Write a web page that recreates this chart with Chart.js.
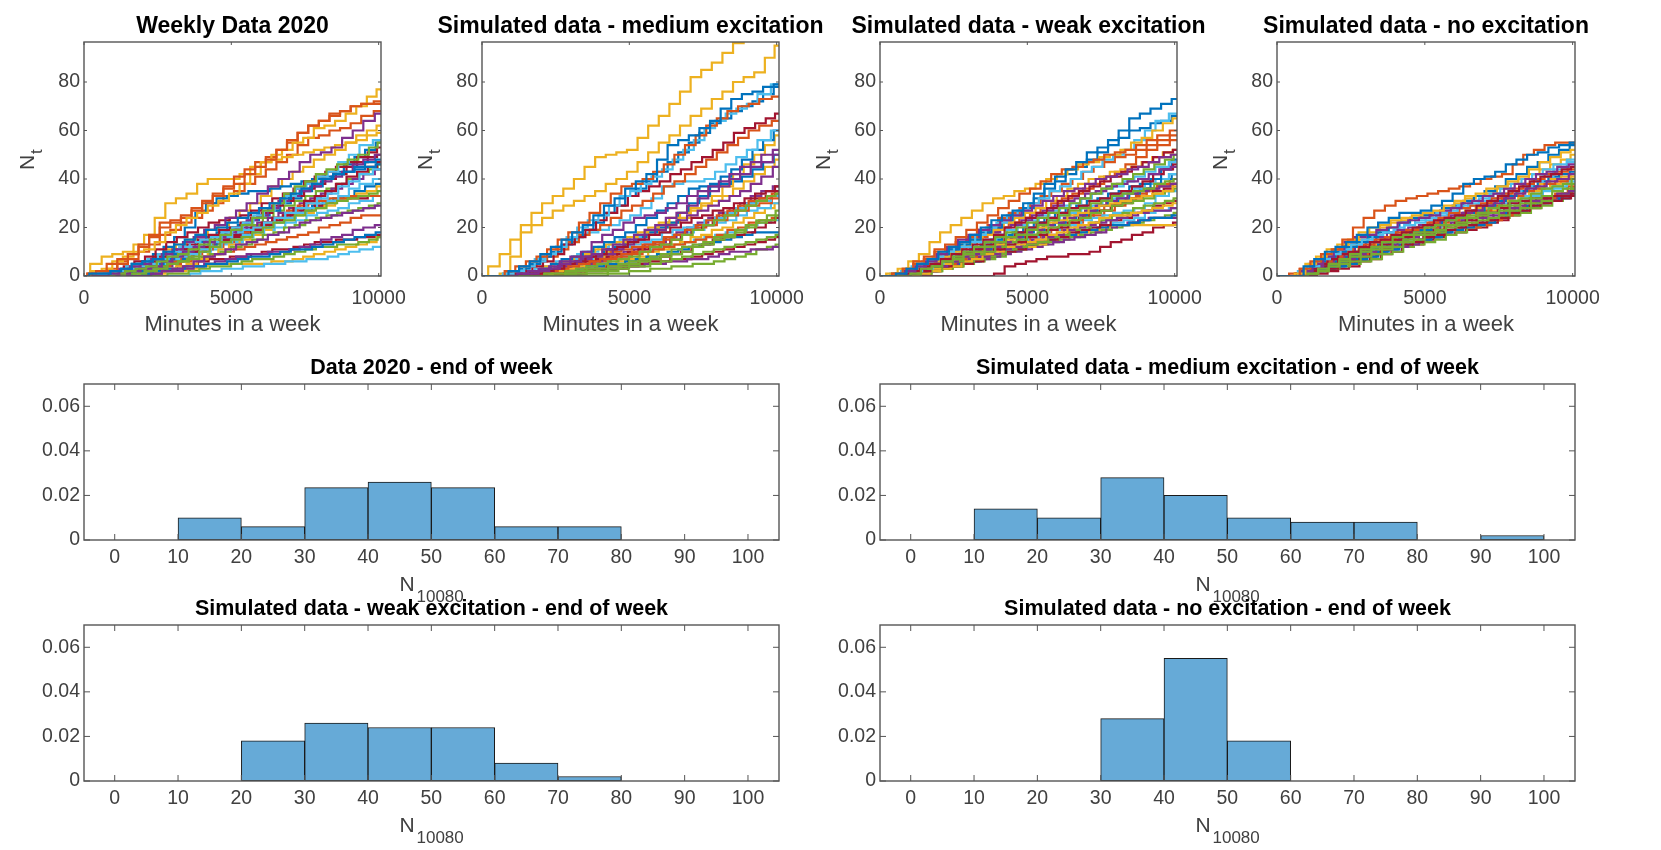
<!DOCTYPE html>
<html>
<head>
<meta charset="utf-8">
<title>Weekly data and simulated excitation</title>
<script src="https://cdn.jsdelivr.net/npm/chart.js@4"></script>
<style>
  html, body { margin: 0; padding: 0; background: #fff; width: 1661px; height: 850px; overflow: hidden; }
  canvas { position: absolute; }
</style>
</head>
<body>
<script>
  // sample times of the cumulative counts, minutes
  const timesMin = [0,360,720,1080,1440,1800,2160,2520,2880,3240,3600,3960,4320,4680,5040,5400,5760,6120,6480,6840,7200,7560,7920,8280,8640,9000,9360,9720,10080];
  // the paths do not jump at the same moment, lag per colour in minutes
  const pathLags = [0, -130, 60, -60, 130, -190, 90];
  const lineXTicks = [0, 5000, 10000];
  const lineYTicks = [0, 20, 40, 60, 80];

  const lineColors = ["#0072BD", "#D95319", "#EDB120", "#7E2F8E", "#77AC30", "#4DBEEE", "#A2142F"];

  const weeklyPaths = [
    [0,1,1,2,3,5,6,7,10,13,15,17,19,20,22,24,26,28,30,32,34,36,38,40,42,43,45,47,48],
    [0,1,2,5,7,9,12,17,22,23,25,27,30,33,36,38,42,45,48,52,56,59,62,64,67,68,70,71,72],
    [0,2,3,6,8,10,11,14,18,21,24,26,29,31,34,38,42,47,50,52,55,57,61,62,64,67,70,74,77],
    [0,0,0,1,3,4,5,7,9,11,14,16,19,21,24,27,30,34,37,40,43,47,50,51,53,57,60,64,67],
    [0,0,0,1,2,3,4,6,8,9,11,13,15,17,19,21,24,27,30,34,37,39,42,44,46,48,50,53,55],
    [0,0,1,1,2,4,5,7,9,10,12,14,15,16,18,20,22,25,27,30,33,36,38,41,43,47,50,54,56],
    [0,1,1,2,4,6,8,11,14,16,18,20,22,23,24,25,27,30,32,34,36,39,41,43,45,47,49,51,53],
    [0,0,1,2,3,5,6,9,12,16,20,26,30,32,33,34,35,35,36,37,38,39,40,41,42,43,44,45,46],
    [0,1,1,3,6,9,13,16,20,22,24,28,31,34,37,41,44,47,49,52,55,59,62,64,66,68,70,71,71],
    [0,5,8,9,10,13,17,24,30,32,34,38,40,40,40,42,45,47,48,49,50,51,52,53,54,55,56,58,59],
    [0,0,0,0,1,2,3,4,6,8,10,12,14,16,18,20,23,25,28,31,33,35,37,39,41,43,46,48,50],
    [0,0,0,0,1,1,2,3,5,6,8,10,12,14,15,16,18,20,22,23,25,27,28,30,31,32,33,34,35],
    [0,0,0,1,2,3,4,5,7,8,10,12,13,14,16,18,19,20,22,24,26,28,30,32,34,37,39,42,44],
    [0,0,0,1,3,4,6,8,10,11,13,15,17,19,20,22,24,26,29,31,33,36,38,40,42,45,47,49,50],
    [0,0,0,0,1,2,4,5,7,9,12,14,16,18,20,21,23,25,27,30,32,35,37,40,43,46,49,52,55],
    [0,0,0,2,5,7,10,13,17,19,22,24,27,30,33,35,38,41,44,47,50,54,57,58,60,61,63,66,68],
    [0,0,0,1,2,4,6,8,11,13,15,17,19,21,24,27,30,33,37,40,43,45,48,50,52,55,58,60,62],
    [0,0,0,0,0,0,0,1,2,3,4,6,8,9,11,13,14,15,17,18,20,22,23,24,25,26,27,28,29],
    [0,0,0,0,1,2,3,4,5,6,7,8,9,10,12,13,15,17,18,20,21,23,24,25,26,27,28,29,30],
    [0,0,0,0,1,1,2,3,5,7,8,9,11,12,14,15,17,18,20,22,24,26,28,30,31,33,36,38,40],
    [0,0,0,1,2,3,5,7,9,10,11,12,14,15,16,17,19,21,23,25,28,31,33,35,38,41,43,45,47],
    [0,0,0,0,0,0,1,2,3,3,4,4,5,5,6,7,8,8,9,10,11,11,12,13,14,15,16,17,18],
    [0,0,0,0,1,2,3,4,5,6,8,9,11,12,14,16,18,20,22,24,27,29,30,31,32,32,33,33,33],
    [0,0,0,0,0,1,2,2,3,4,5,7,9,11,13,15,17,19,22,23,25,26,28,29,31,33,34,35,37],
    [0,0,0,0,0,0,1,1,2,2,3,4,5,6,7,8,9,9,10,10,11,12,13,15,16,17,19,20,21],
    [0,0,0,0,0,0,0,0,1,1,2,3,4,4,5,6,7,7,8,9,10,11,12,12,13,13,14,15,16],
    [0,0,0,0,0,0,0,0,0,0,0,1,2,2,3,3,4,4,5,5,6,6,7,7,8,9,10,11,12],
    [0,0,0,1,2,3,4,5,7,8,10,12,14,15,17,18,20,22,24,25,27,28,29,30,31,32,32,33,33],
    [0,0,1,1,2,2,3,4,6,7,9,10,12,14,16,17,19,20,22,24,26,27,29,31,32,33,35,37,38],
    [0,0,0,0,1,1,2,3,4,5,6,7,8,9,10,11,12,13,14,15,16,17,18,20,21,22,24,25,25],
    [0,0,0,0,0,0,1,1,2,2,3,4,5,5,5,5,5,5,6,6,7,8,9,10,11,12,13,14,16],
    [0,0,0,0,1,1,2,3,4,6,8,10,12,14,16,18,20,22,24,26,28,30,32,34,36,38,40,42,44],
    [0,0,0,0,1,2,3,4,6,7,9,11,13,15,17,19,21,24,27,29,31,33,35,36,38,40,42,44,46],
    [0,0,0,0,1,2,3,4,5,6,8,9,10,11,13,14,16,17,19,20,22,23,25,26,27,28,30,31,33],
    [0,0,0,0,1,1,1,2,3,4,5,6,7,7,8,8,9,10,11,11,12,13,14,14,15,15,16,16,17]
  ];

  const mediumPaths = [
    [0,0,0,2,4,6,9,12,15,18,21,25,29,32,36,39,42,48,54,56,58,61,64,69,73,75,76,78,79],
    [0,0,0,2,4,6,8,11,15,18,22,26,30,34,37,38,40,43,46,50,54,58,62,65,68,70,71,73,74],
    [0,4,9,15,21,26,30,33,36,40,45,49,50,51,52,57,62,66,71,76,82,85,88,92,96,102,108,112,115],
    [0,0,0,0,1,2,3,4,6,8,10,14,17,19,22,24,25,26,28,30,33,35,37,39,42,45,47,50,52],
    [0,0,0,0,0,0,1,1,2,3,4,5,6,7,8,10,12,13,15,17,19,21,23,25,27,29,31,33,34],
    [0,0,0,1,2,4,6,9,12,16,20,23,25,29,33,35,38,41,44,48,52,56,61,64,67,69,71,75,79],
    [0,0,0,1,2,4,6,9,13,16,19,23,26,29,33,35,37,39,42,44,47,49,52,55,59,61,63,65,67],
    [0,0,0,1,3,5,8,10,13,16,19,22,26,29,33,36,39,43,47,51,55,59,63,65,68,70,72,75,78],
    [0,0,0,1,2,4,6,8,11,14,17,19,21,24,27,29,31,34,37,39,42,45,48,51,54,57,60,62,64],
    [0,0,1,8,18,21,24,27,29,31,33,35,38,40,43,47,51,55,58,62,66,69,73,76,80,82,84,90,95],
    [0,0,0,0,1,1,2,3,5,6,8,9,11,13,15,17,19,21,24,26,29,32,35,37,40,42,45,47,50],
    [0,0,0,0,0,0,0,0,1,2,3,3,4,5,6,7,8,9,11,12,13,14,16,17,19,21,23,25,27],
    [0,0,0,1,2,4,7,9,12,15,17,18,19,21,23,25,28,32,37,38,39,39,40,43,46,49,52,56,60],
    [0,0,0,0,1,1,2,3,5,6,8,9,11,12,14,15,17,18,20,22,24,25,27,28,30,32,34,35,37],
    [0,0,0,0,1,2,3,5,7,8,10,12,14,16,18,21,24,27,30,33,36,37,38,41,44,48,52,56,60],
    [0,0,0,0,0,0,1,2,3,4,5,6,7,8,9,10,12,13,15,17,19,21,23,25,27,29,31,32,34],
    [0,0,0,0,1,2,4,5,6,8,9,11,13,14,16,18,20,22,24,26,28,30,33,37,42,46,50,54,58],
    [0,0,0,0,0,1,2,3,4,5,7,8,9,11,13,15,17,19,21,23,25,27,29,31,33,35,38,41,45],
    [0,0,0,0,0,0,0,0,1,1,2,2,3,4,5,6,7,8,9,10,12,13,15,16,18,20,22,23,25],
    [0,0,0,0,1,2,3,4,6,7,9,10,12,13,15,16,17,17,18,19,20,21,23,24,26,28,30,31,33],
    [0,0,0,0,1,2,3,4,5,5,6,7,8,9,10,11,12,13,15,17,19,21,24,26,28,30,32,33,35],
    [0,0,0,0,1,2,3,4,5,6,8,9,11,12,14,16,18,20,22,26,30,33,37,38,39,41,44,47,50],
    [0,0,0,0,1,1,2,3,4,5,7,8,9,10,11,12,13,14,16,17,19,20,21,23,25,27,29,30,32],
    [0,0,0,0,0,0,1,2,3,4,6,8,10,12,14,16,18,20,22,24,27,29,31,33,36,39,42,45,48],
    [0,0,0,0,0,0,1,2,3,4,5,6,8,9,10,11,13,14,16,18,20,22,24,26,28,30,33,35,37],
    [0,0,0,0,0,0,0,0,0,0,1,1,2,3,4,4,5,6,7,8,9,10,11,12,13,14,15,16,17],
    [0,0,0,0,0,1,2,3,4,5,6,7,9,10,12,13,14,15,16,17,18,19,21,22,23,25,27,28,30],
    [0,0,0,0,0,0,1,1,2,2,3,3,4,4,5,6,7,8,9,10,12,13,15,16,17,18,20,22,24],
    [0,0,0,0,0,0,1,2,3,3,4,4,5,5,6,7,8,9,10,11,12,13,14,15,16,17,18,18,18],
    [0,0,0,0,1,1,2,2,3,3,4,5,6,7,8,9,10,11,12,13,14,15,16,17,19,20,22,23,24],
    [0,0,0,0,0,0,1,1,2,2,3,4,5,6,7,8,10,11,13,14,16,17,19,20,22,24,26,28,30],
    [0,0,0,0,0,0,0,0,1,1,2,2,3,3,4,4,5,5,6,6,7,7,8,9,10,10,11,11,12],
    [0,0,0,0,0,0,0,0,0,0,0,0,1,1,2,2,3,3,4,4,5,5,6,7,8,9,11,12,13],
    [0,0,0,0,0,0,1,1,2,3,4,5,6,7,8,9,10,11,12,13,14,15,16,17,18,19,21,22,23],
    [0,0,0,0,0,0,0,0,1,1,2,2,3,3,4,5,6,6,7,7,8,9,10,11,12,13,14,15,16]
  ];

  const weakPaths = [
    [0,0,1,3,5,7,10,12,14,17,20,23,25,27,30,34,38,41,44,47,51,53,56,60,65,67,69,71,73],
    [0,0,1,3,6,8,11,13,16,19,22,25,28,31,34,36,39,42,44,45,47,48,50,51,52,54,56,58,60],
    [0,1,3,6,9,14,18,21,24,27,30,32,33,35,36,38,40,42,44,46,47,49,50,52,55,57,60,63,65],
    [0,0,1,2,4,6,9,12,15,17,19,21,23,25,27,29,31,33,35,36,38,40,41,42,44,45,47,49,50],
    [0,0,0,1,3,4,6,8,10,12,14,16,18,20,22,24,26,28,30,32,34,36,38,40,42,44,46,48,50],
    [0,0,1,2,4,6,8,10,12,14,17,20,22,25,27,30,32,35,37,40,43,45,48,50,52,56,60,64,67],
    [0,0,1,2,4,5,7,9,11,13,15,17,20,22,24,26,28,31,33,35,37,39,41,43,45,47,49,51,52],
    [0,0,1,3,5,7,9,11,13,15,18,20,23,25,28,32,36,39,42,45,48,51,54,57,60,61,63,64,66],
    [0,0,1,3,5,7,10,12,14,16,19,21,24,26,28,30,33,35,38,40,43,45,47,49,50,52,54,56,58],
    [0,0,1,2,4,6,8,10,13,15,17,19,22,24,26,28,31,33,36,38,40,41,43,44,45,47,49,51,52],
    [0,0,0,1,3,5,8,11,14,15,17,18,20,21,23,25,27,29,31,32,34,35,37,38,39,40,42,44,45],
    [0,0,0,1,3,4,6,7,9,10,12,14,16,17,19,21,23,25,27,28,30,31,33,34,35,36,38,39,40],
    [0,0,0,1,2,3,5,7,10,12,14,15,17,19,21,23,25,27,29,30,32,34,36,37,39,41,43,45,47],
    [0,0,0,1,2,4,6,8,10,11,13,14,16,18,20,22,24,26,28,29,31,32,34,35,37,39,42,44,46],
    [0,0,0,1,3,4,6,8,10,11,13,15,17,18,20,22,24,26,28,29,31,32,34,35,37,38,40,44,48],
    [0,0,1,2,4,5,7,9,11,13,16,18,20,22,24,26,28,30,32,34,36,38,41,43,46,49,52,54,56],
    [0,0,0,1,2,3,5,7,9,10,12,13,15,17,19,20,22,23,25,26,28,29,30,31,32,33,34,35,37],
    [0,0,0,1,2,3,4,6,8,9,11,12,14,16,18,19,21,22,24,25,27,29,31,32,34,35,36,37,38],
    [0,0,0,1,2,3,5,6,8,9,10,12,14,15,17,18,20,21,23,24,26,27,29,30,31,32,34,35,36],
    [0,0,0,1,2,3,5,6,8,10,12,13,15,16,18,20,22,23,25,26,28,29,31,32,34,36,38,40,42],
    [0,0,0,1,2,3,4,6,8,9,10,11,13,14,16,17,19,20,22,24,26,27,29,30,32,33,35,36,38],
    [0,0,0,1,2,3,5,6,8,9,11,12,14,16,18,19,21,22,24,25,27,29,31,32,34,36,38,40,42],
    [0,0,0,1,2,3,4,5,7,8,10,11,13,14,16,17,19,20,22,23,25,27,29,30,32,34,36,38,40],
    [0,0,0,0,1,2,3,4,6,7,9,10,12,13,14,15,17,18,20,21,22,24,25,25,26,27,28,29,30],
    [0,0,0,0,1,2,4,5,6,7,8,9,11,12,14,15,16,17,19,20,21,22,23,24,25,26,27,27,28],
    [0,0,0,0,1,2,3,4,6,7,8,9,11,12,13,14,16,17,19,20,22,23,25,26,28,29,30,31,32],
    [0,0,0,1,2,3,4,5,7,8,10,11,12,13,15,16,18,19,20,21,23,24,25,26,27,28,30,33,35],
    [0,0,0,0,1,2,3,4,5,6,8,9,10,11,13,14,15,16,18,19,20,21,23,24,26,27,29,30,31],
    [0,0,0,0,1,2,3,4,5,6,8,9,10,11,13,14,15,16,17,18,19,20,21,21,22,23,24,24,25],
    [0,0,0,1,2,3,4,5,7,8,10,11,13,14,15,16,18,19,21,22,24,25,27,29,31,33,35,37,38],
    [0,0,0,0,1,2,3,4,6,7,8,9,10,11,12,13,15,16,17,18,19,20,21,21,21,21,21,21,21],
    [0,0,0,0,1,2,3,4,5,6,7,8,9,10,11,12,13,14,15,16,17,18,20,21,22,23,24,24,24],
    [0,0,0,0,1,2,3,4,5,6,7,8,10,11,12,13,14,15,16,17,18,19,20,21,22,23,24,25,26],
    [0,0,0,0,1,2,3,4,5,6,7,8,10,11,12,13,14,15,16,17,19,20,21,22,23,24,26,27,28],
    [0,0,0,0,0,0,0,0,0,0,0,1,4,5,6,7,8,8,9,9,10,12,14,15,17,18,20,21,22]
  ];

  const nonePaths = [
    [0,0,0,4,7,10,12,14,17,20,22,24,26,26,27,29,31,34,38,40,41,43,46,48,50,51,53,54,55],
    [0,0,0,3,6,9,11,15,20,24,27,29,31,32,33,34,35,36,37,38,40,41,42,46,50,52,54,55,55],
    [0,0,1,5,8,11,13,15,18,20,21,23,24,25,26,27,29,31,33,34,36,37,39,41,44,47,49,51,52],
    [0,0,0,2,5,8,11,14,16,17,19,20,22,23,24,25,27,28,30,31,33,34,36,38,40,42,43,45,46],
    [0,0,0,1,3,5,7,9,11,12,14,16,17,18,20,21,23,24,25,26,28,29,31,32,34,36,37,38,40],
    [0,0,0,2,4,7,9,11,13,15,17,18,20,21,23,24,26,27,29,30,32,34,36,38,40,42,44,46,48],
    [0,0,1,3,5,7,9,10,12,14,15,17,18,20,21,23,24,25,27,29,31,33,35,37,39,41,42,44,45],
    [0,0,0,3,6,8,10,12,14,16,18,20,22,24,25,26,28,29,31,33,35,37,40,42,45,47,50,52,54],
    [0,0,1,3,5,6,8,10,12,13,15,16,18,19,20,22,24,26,28,29,30,32,34,36,38,40,42,43,44],
    [0,0,1,4,7,9,11,13,15,18,20,22,23,24,25,26,28,30,32,33,34,36,38,40,42,44,46,48,50],
    [0,0,0,2,4,6,8,10,12,14,16,18,19,20,21,22,24,25,26,27,29,30,32,34,36,37,39,40,42],
    [0,0,0,1,2,4,6,8,10,11,12,14,15,17,18,19,21,22,24,25,26,27,29,30,32,33,35,36,38],
    [0,0,0,2,5,7,9,11,13,14,16,18,19,21,22,23,25,26,28,29,31,32,34,35,37,39,41,44,47],
    [0,0,0,2,4,5,7,9,11,12,13,15,16,17,18,19,21,22,23,25,26,28,30,31,32,32,33,33,34],
    [0,0,0,1,3,4,6,8,10,11,13,14,16,18,19,21,23,24,26,27,29,31,33,35,37,39,41,42,43],
    [0,0,0,2,4,5,7,8,10,12,14,15,17,18,19,20,22,23,25,26,27,29,32,33,35,36,38,39,40],
    [0,0,0,2,4,6,8,10,12,13,15,17,18,19,21,22,24,25,27,28,30,31,33,35,37,38,40,41,42],
    [0,0,0,1,3,4,6,7,9,10,12,13,15,16,18,19,21,22,23,24,25,26,28,29,31,32,33,34,35],
    [0,0,0,1,3,4,5,6,8,9,11,12,14,15,17,18,20,21,22,23,24,25,27,28,30,31,33,34,36],
    [0,0,0,1,3,4,6,7,9,11,13,14,16,18,20,21,23,24,25,26,27,28,30,31,33,34,36,37,39],
    [0,0,0,1,2,3,5,6,8,9,11,12,13,14,16,17,19,20,21,22,23,24,26,27,29,30,31,32,33],
    [0,0,0,1,2,3,4,5,7,8,10,11,13,14,15,16,18,19,20,21,22,24,26,27,29,30,31,32,33],
    [0,0,0,1,2,3,5,6,8,9,10,12,13,14,15,16,18,19,20,20,21,23,25,27,29,30,32,34,37],
    [0,0,0,2,5,6,8,9,11,12,14,15,16,17,18,19,21,22,24,25,27,29,31,33,35,36,38,39,41],
    [0,0,0,1,2,3,4,5,7,8,10,11,12,13,15,16,18,19,21,22,24,25,27,28,30,31,32,33,34],
    [0,0,0,1,2,3,4,5,6,7,9,10,12,13,14,15,17,18,20,21,23,24,25,26,28,29,31,33,36],
    [0,0,0,1,3,4,5,6,8,9,11,12,14,15,17,18,20,21,23,24,26,27,29,30,32,33,35,36,38],
    [0,0,0,0,1,2,3,4,6,7,9,10,12,13,15,16,17,18,19,20,22,23,25,26,28,30,32,34,36]
  ];

  // histograms of the end of week count
  const binCentres = [5, 15, 25, 35, 45, 55, 65, 75, 85, 95];
  const histXTicks = [0, 10, 20, 30, 40, 50, 60, 70, 80, 90, 100];
  const histYTicks = [0, 0.02, 0.04, 0.06];
  const weeklyEnd = [0, 0.01, 0.006, 0.0235, 0.026, 0.0235, 0.006, 0.006, 0, 0];
  const mediumEnd = [0, 0.014, 0.01, 0.028, 0.02, 0.01, 0.008, 0.008, 0, 0.002];
  const weakEnd = [0, 0, 0.018, 0.026, 0.024, 0.024, 0.008, 0.002, 0, 0];
  const noneEnd = [0, 0, 0, 0.028, 0.055, 0.018, 0, 0, 0, 0];

  const FONT = '"Liberation Sans", Arial, sans-serif';
  const TEXT = "#404040";
  const SIDE = 80;
  const TITLE_H = 27;
  const BELOW = 72;

  // box around the plot with inward ticks, like the original figure
  const boxPlugin = {
    id: "box",
    afterDatasetsDraw(chart, args, opts) {
      const { ctx, chartArea: a, scales } = chart;
      ctx.save();
      ctx.strokeStyle = opts.color;
      ctx.lineWidth = 1;
      ctx.beginPath();
      scales.x.ticks.forEach((t) => {
        const x = scales.x.getPixelForValue(t.value);
        ctx.moveTo(x, a.bottom);
        ctx.lineTo(x, a.bottom - opts.tick);
        ctx.moveTo(x, a.top);
        ctx.lineTo(x, a.top + opts.tick);
      });
      scales.y.ticks.forEach((t) => {
        const y = scales.y.getPixelForValue(t.value);
        ctx.moveTo(a.left, y);
        ctx.lineTo(a.left + opts.tick, y);
        ctx.moveTo(a.right, y);
        ctx.lineTo(a.right - opts.tick, y);
      });
      ctx.stroke();
      ctx.lineWidth = opts.width;
      ctx.strokeRect(a.left, a.top, a.right - a.left, a.bottom - a.top);
      ctx.restore();
    }
  };

  // axis names with a subscript, which the built in scale title cannot do
  const subLabelPlugin = {
    id: "subLabel",
    afterDraw(chart, args, opts) {
      const { ctx, chartArea: a } = chart;
      ctx.save();
      ctx.fillStyle = TEXT;
      ctx.textBaseline = "alphabetic";
      ctx.textAlign = "left";
      if (opts.kind === "y") {
        ctx.translate(a.left - 50, (a.top + a.bottom) / 2 + 11);
        ctx.rotate(-Math.PI / 2);
        ctx.font = `21px ${FONT}`;
        ctx.fillText("N", 0, 0);
        ctx.font = `17px ${FONT}`;
        ctx.fillText("t", 16, 8);
      } else {
        const x = (a.left + a.right) / 2 - 32;
        ctx.font = `21px ${FONT}`;
        ctx.fillText("N", x, a.bottom + 51);
        ctx.font = `17px ${FONT}`;
        ctx.fillText("10080", x + 17, a.bottom + 62);
      }
      ctx.restore();
    }
  };

  function makeCanvas(rect) {
    const c = document.createElement("canvas");
    const w = rect.r - rect.l + SIDE * 2;
    const h = rect.b - rect.t + TITLE_H + BELOW;
    c.width = w;
    c.height = h;
    c.style.left = `${rect.l - SIDE}px`;
    c.style.top = `${rect.t - TITLE_H}px`;
    c.style.width = `${w}px`;
    c.style.height = `${h}px`;
    document.body.appendChild(c);
    return c;
  }

  function scaleOptions(extra, ticksList, size, padding) {
    return {
      type: "linear",
      offset: false,
      grid: { display: false, drawTicks: false },
      border: { display: false },
      afterBuildTicks(scale) {
        scale.ticks = ticksList.map((value) => ({ value }));
      },
      afterFit(scale) {
        if (scale.isHorizontal()) scale.height = size;
        else scale.width = size;
      },
      ticks: {
        autoSkip: false,
        maxRotation: 0,
        minRotation: 0,
        padding,
        color: TEXT,
        font: { family: FONT, size: 19.5 },
        callback: (v) => String(v)
      },
      ...extra
    };
  }

  // empty scale on the right so the chart title stays centred over the plot
  const rightSpacer = {
    type: "linear",
    position: "right",
    grid: { display: false, drawTicks: false },
    border: { display: false },
    ticks: { display: false },
    afterFit(scale) {
      scale.width = SIDE;
    }
  };

  function baseOptions(title, titleSize, titlePad, x, y, tick, subKind) {
    return {
      responsive: false,
      animation: false,
      devicePixelRatio: 1,
      layout: { padding: 0 },
      plugins: {
        legend: { display: false },
        tooltip: { enabled: false },
        title: {
          display: true,
          text: title,
          color: "#000",
          font: { family: FONT, size: titleSize, weight: "bold", lineHeight: 1 },
          padding: { top: 0, bottom: titlePad }
        },
        box: { color: "#555", width: 1.4, tick },
        subLabel: { kind: subKind }
      },
      scales: { x, y, spacer: rightSpacer }
    };
  }

  function drawLines(rect, title, paths) {
    const last = timesMin.length - 1;
    const datasets = paths.map((path, i) => ({
      data: path.map((n, k) => ({
        x: k === 0 || k === last ? timesMin[k] : timesMin[k] + pathLags[i % pathLags.length],
        y: n
      })),
      borderColor: lineColors[i % lineColors.length],
      borderWidth: 2.2,
      pointRadius: 0,
      stepped: "middle",
      fill: false
    }));
    const x = scaleOptions(
      {
        min: 0,
        max: 10080,
        title: {
          display: true,
          text: "Minutes in a week",
          color: TEXT,
          padding: { top: 0, bottom: 10 },
          font: { family: FONT, size: 22 }
        }
      },
      lineXTicks, BELOW, 11
    );
    const y = scaleOptions({ min: 0, max: 96.5 }, lineYTicks, SIDE, 4);
    new Chart(makeCanvas(rect), {
      type: "line",
      data: { datasets },
      options: baseOptions(title, 23, 4, x, y, 3, "y"),
      plugins: [boxPlugin, subLabelPlugin]
    });
  }

  function drawHist(rect, title, values) {
    const x = scaleOptions({ min: -4.85, max: 104.9 }, histXTicks, BELOW, 6);
    const y = scaleOptions({ min: 0, max: 0.07 }, histYTicks, SIDE, 4);
    new Chart(makeCanvas(rect), {
      type: "bar",
      data: {
        datasets: [{
          data: values.map((v, k) => ({ x: binCentres[k], y: v })),
          backgroundColor: "#66AAD7",
          borderColor: "#1a1a1a",
          borderWidth: 1,
          borderSkipped: false,
          barPercentage: 1,
          categoryPercentage: 1
        }]
      },
      options: baseOptions(title, 21.5, 5.5, x, y, 6, "x"),
      plugins: [boxPlugin, subLabelPlugin]
    });
  }

  drawLines({ l: 84, r: 381, t: 42, b: 276 }, "Weekly Data 2020", weeklyPaths);
  drawLines({ l: 482, r: 779, t: 42, b: 276 }, "Simulated data - medium excitation", mediumPaths);
  drawLines({ l: 880, r: 1177, t: 42, b: 276 }, "Simulated data - weak excitation", weakPaths);
  drawLines({ l: 1277, r: 1575, t: 42, b: 276 }, "Simulated data - no excitation", nonePaths);

  drawHist({ l: 84, r: 779, t: 383.5, b: 540 }, "Data 2020 - end of week", weeklyEnd);
  drawHist({ l: 880, r: 1575, t: 383.5, b: 540 }, "Simulated data - medium excitation - end of week", mediumEnd);
  drawHist({ l: 84, r: 779, t: 625, b: 781 }, "Simulated data - weak excitation - end of week", weakEnd);
  drawHist({ l: 880, r: 1575, t: 625, b: 781 }, "Simulated data - no excitation - end of week", noneEnd);
</script>
</body>
</html>
